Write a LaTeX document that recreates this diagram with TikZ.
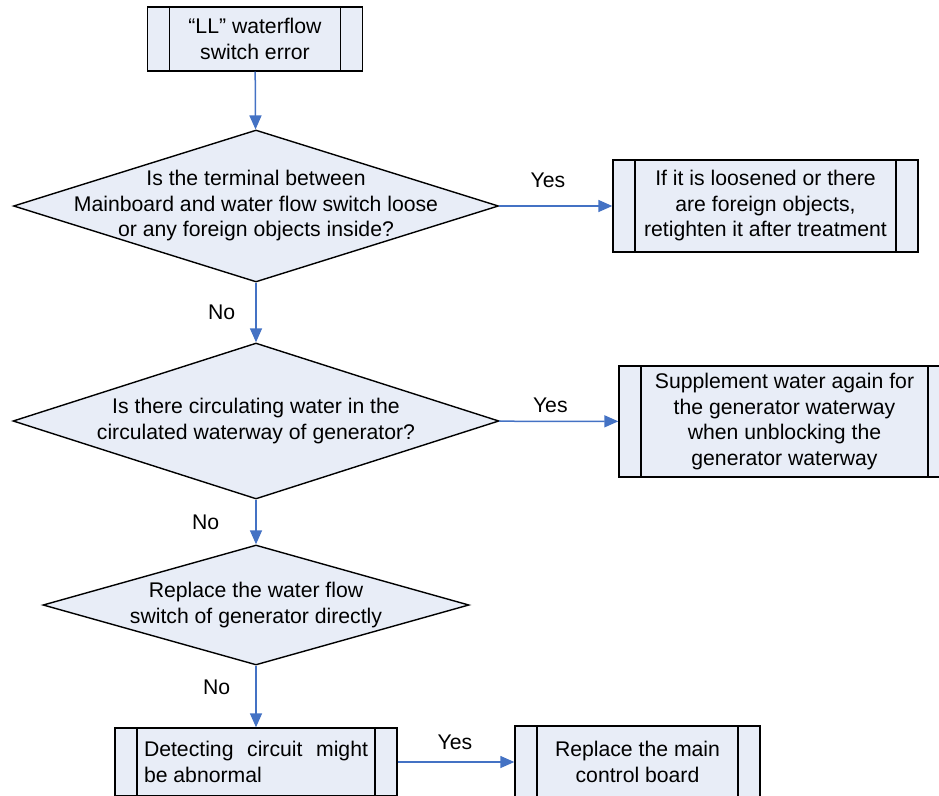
\documentclass[tikz,border=0pt]{standalone}
\usepackage{fontspec}
\setmainfont{Liberation Sans}
\usetikzlibrary{arrows.meta,shapes.geometric}
\definecolor{chartLine}{HTML}{000000}
\definecolor{chartFill}{HTML}{E8EDF7}
\definecolor{chartFlow}{HTML}{4472C4}

\begin{document}
\begin{tikzpicture}[
    x=1pt,y=-1pt,
    every node/.style={font=\fontsize{21.2}{25.5}\selectfont,align=center},
    process/.style={draw=chartLine,fill=chartFill,line width=1.4pt,inner sep=0pt,
        path picture={\draw[chartLine,line width=1.4pt]
            ([xshift=22pt]path picture bounding box.north west) -- ([xshift=22pt]path picture bounding box.south west)
            ([xshift=-22pt]path picture bounding box.north east) -- ([xshift=-22pt]path picture bounding box.south east);}},
    decision/.style={diamond,draw=chartLine,fill=chartFill,line width=1.4pt,inner sep=0pt},
    answer/.style={inner sep=0pt},
    flow/.style={-{Triangle[length=14pt,width=12pt]},draw=chartFlow,line width=1.5pt}
]
\useasboundingbox (0,0) rectangle (939,795);
\clip (0,0) rectangle (939,795);
\node[process,minimum width=215,minimum height=64] (start) at (255,39) {``LL'' waterflow\\switch error};
\node[decision,minimum width=485,minimum height=152,
    label={[answer]center:Is the terminal between\\Mainboard and water flow switch loose\\or any foreign objects inside?}] (terminal) at (256,206) {};
\node[process,minimum width=305,minimum height=92] (retighten) at (765.5,206) {If it is loosened or there\\are foreign objects,\\retighten it after treatment};
\node[decision,minimum width=486,minimum height=156,
    label={[answer]center:Is there circulating water in the\\circulated waterway of generator?}] (water) at (256,421) {};
\node[process,minimum width=331,minimum height=111] (supplement) at (784.5,421.5) {Supplement water again for\\the generator waterway\\when unblocking the\\generator waterway};
\node[decision,minimum width=426,minimum height=120,
    label={[answer]center:Replace the water flow\\switch of generator directly}] (switch) at (256,605) {};
\node[process,minimum width=282,minimum height=68,text width=224,align=justify] (detect) at (256,762) {Detecting circuit might be abnormal};
\node[process,minimum width=245,minimum height=72] (board) at (637.5,762) {Replace the main\\control board};
\draw[flow] (start) -- (terminal);
\draw[flow] (terminal) -- node[answer,above=18pt,pos=0.43] {Yes} (retighten);
\draw[flow] (terminal) -- node[answer,left=20pt] {No} (water);
\draw[flow] (water) -- node[answer,above=8pt,pos=0.43] {Yes} (supplement);
\draw[flow] (water) -- node[answer,left=36pt] {No} (switch);
\draw[flow] (switch) -- node[answer,left=25pt,pos=0.35] {No} (detect);
\draw[flow] (detect) -- node[answer,above=12pt,pos=0.49] {Yes} (board);
\end{tikzpicture}
\end{document}
